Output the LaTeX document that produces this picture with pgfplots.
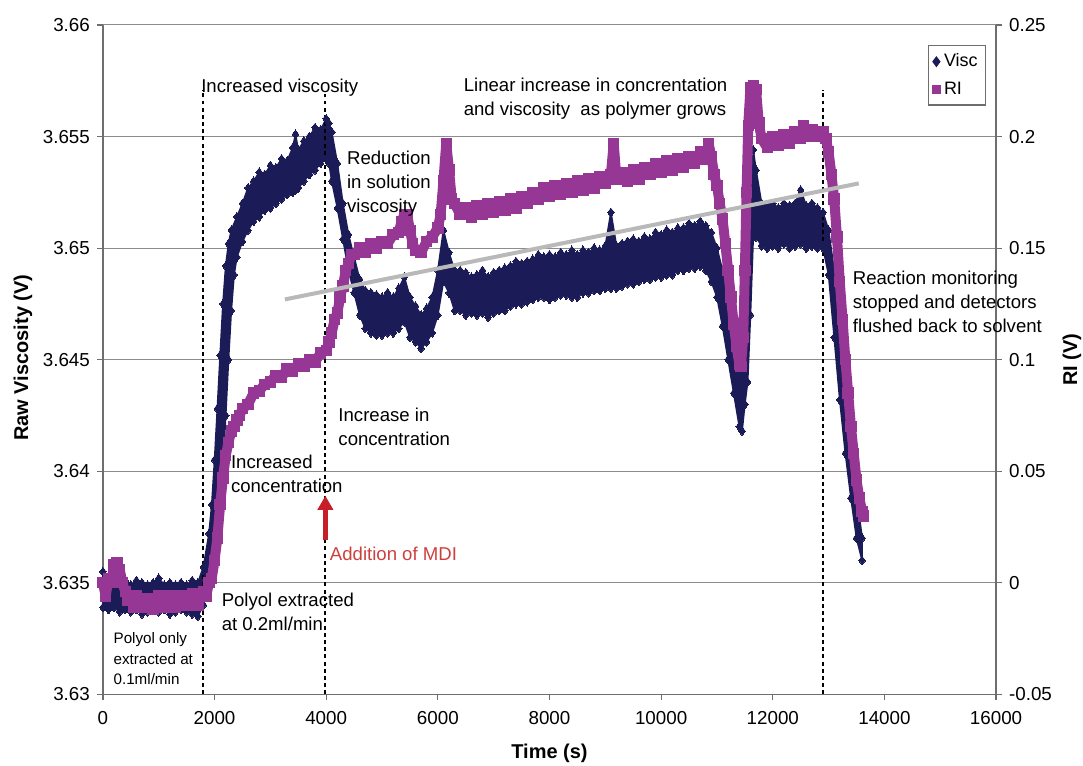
\documentclass[border=0pt]{standalone}
\usepackage{fontspec}
\setmainfont{Liberation Sans}
\usepackage{pgfplots}
\pgfplotsset{compat=1.18}
\usetikzlibrary{arrows.meta}
\definecolor{viscc}{RGB}{27,27,87}
\definecolor{ric}{RGB}{150,55,150}
\definecolor{trendc}{RGB}{185,185,185}
\definecolor{arrowc}{RGB}{200,30,40}
\definecolor{mdic}{RGB}{205,65,60}
\definecolor{axc}{RGB}{110,110,110}
\definecolor{gridc}{RGB}{140,140,140}
\newcommand{\annot}{\fontsize{9.3}{12}\selectfont}
\newcommand{\annots}{\fontsize{7.6}{10.3}\selectfont}
\pgfplotsset{scaled x ticks=false, scaled y ticks=false}
\begin{document}
\begin{tikzpicture}
\useasboundingbox (-51.5pt,-35.5pt) rectangle (490.5pt,347.5pt);
\begin{axis}[
  scale only axis, width=447pt, height=335pt,
  xmin=0, xmax=16000, ymin=3.63, ymax=3.66,
  axis y line*=left, axis x line*=bottom,
  axis line style={axc, line width=0.6pt, -},
  xtick={0,2000,4000,6000,8000,10000,12000,14000,16000},
  xticklabels={0,2000,4000,6000,8000,10000,12000,14000,16000},
  ytick={3.63,3.635,3.64,3.645,3.65,3.655,3.66},
  yticklabels={3.63,3.635,3.64,3.645,3.65,3.655,3.66},
  tick align=outside, major tick length=3pt,
  tick style={axc, line width=0.6pt},
  ymajorgrids, grid style={gridc, line width=0.5pt},
  ticklabel style={font=\fontsize{9.4}{11}\selectfont},
  xticklabel style={yshift=-2pt},
  xlabel={Time (s)}, ylabel={Raw Viscosity (V)},
  label style={font=\fontsize{10}{12}\selectfont\bfseries},
  xlabel style={at={(axis description cs:0.5,-0.088)}, anchor=center},
  ylabel style={at={(axis description cs:-0.0895,0.503)}, anchor=center},
  clip=false,
]
% Visc point cloud: upper edge (forward in time), then lower edge (backward in time)
\addplot[viscc, fill=viscc, line width=0.8pt, line join=round, mark=diamond*, mark size=2.2pt, mark options={solid, line width=0pt}] coordinates {
(0,3.6355) (100,3.6352) (200,3.6351) (300,3.6350) (400,3.6351) (500,3.6349) (600,3.6351) (700,3.6350) (800,3.6349) (900,3.6350) (1000,3.6352) (1100,3.6349) (1200,3.6350) (1300,3.6349) (1400,3.6350) (1500,3.6349) (1600,3.6351) (1700,3.6350) (1800,3.6357) (1900,3.6372) (1950,3.6385) (2000,3.6405) (2050,3.6428) (2100,3.6452) (2150,3.6475) (2200,3.6492) (2250,3.6502) (2300,3.6508) (2400,3.6514) (2500,3.6520) (2600,3.6527) (2700,3.6530) (2800,3.6534) (2900,3.6533) (3000,3.6537) (3100,3.6536) (3200,3.6540) (3300,3.6539) (3400,3.6545) (3450,3.6551) (3500,3.6544) (3600,3.6548) (3700,3.6550) (3800,3.6554) (3900,3.6553) (4000,3.6558) (4050,3.6556) (4100,3.6552) (4200,3.6538) (4300,3.6520) (4400,3.6506) (4500,3.6496) (4600,3.6486) (4700,3.6481) (4800,3.6480) (4900,3.6479) (5000,3.6478) (5100,3.6480) (5200,3.6478) (5300,3.6482) (5400,3.6487) (5500,3.6478) (5600,3.6474) (5700,3.6470) (5800,3.6473) (5900,3.6478) (6000,3.6490) (6100,3.6508) (6200,3.6498) (6300,3.6490) (6400,3.6490) (6500,3.6489) (6600,3.6487) (6700,3.6488) (6800,3.6490) (6900,3.6487) (7000,3.6489) (7100,3.6490) (7200,3.6491) (7300,3.6492) (7400,3.6494) (7500,3.6493) (7600,3.6494) (7700,3.6495) (7800,3.6497) (7900,3.6496) (8000,3.6497) (8100,3.6496) (8200,3.6498) (8300,3.6497) (8400,3.6499) (8500,3.6497) (8600,3.6499) (8700,3.6498) (8800,3.6500) (8900,3.6499) (9000,3.6501) (9100,3.6516) (9200,3.6501) (9300,3.6502) (9400,3.6503) (9500,3.6504) (9600,3.6503) (9700,3.6505) (9800,3.6504) (9900,3.6507) (10000,3.6506) (10100,3.6508) (10200,3.6507) (10300,3.6509) (10400,3.6509) (10500,3.6511) (10600,3.6510) (10700,3.6512) (10800,3.6510) (10900,3.6507) (11000,3.6500) (11100,3.6490) (11200,3.6475) (11300,3.6462) (11400,3.6452) (11450,3.6448) (11500,3.6455) (11550,3.6470) (11600,3.6510) (11650,3.6544) (11700,3.6535) (11800,3.6520) (11900,3.6519) (12000,3.6520) (12100,3.6518) (12200,3.6520) (12300,3.6519) (12400,3.6520) (12500,3.6526) (12600,3.6519) (12700,3.6520) (12800,3.6518) (12900,3.6516) (13000,3.6508) (13100,3.6490) (13200,3.6465) (13300,3.6440) (13400,3.6412) (13500,3.6390) (13600,3.6370)
(13600,3.6360) (13500,3.6370) (13400,3.6388) (13300,3.6408) (13200,3.6432) (13100,3.6460) (13000,3.6488) (12900,3.6500) (12800,3.6500) (12700,3.6501) (12600,3.6500) (12500,3.6502) (12400,3.6501) (12300,3.6500) (12200,3.6502) (12100,3.6500) (12000,3.6501) (11900,3.6500) (11800,3.6501) (11700,3.6505) (11650,3.6505) (11600,3.6470) (11550,3.6440) (11500,3.6430) (11450,3.6418) (11400,3.6420) (11300,3.6435) (11200,3.6450) (11100,3.6465) (11000,3.6478) (10900,3.6485) (10800,3.6490) (10700,3.6492) (10600,3.6491) (10500,3.6491) (10400,3.6490) (10300,3.6490) (10200,3.6488) (10100,3.6488) (10000,3.6487) (9900,3.6487) (9800,3.6486) (9700,3.6486) (9600,3.6485) (9500,3.6484) (9400,3.6484) (9300,3.6483) (9200,3.6482) (9100,3.6482) (9000,3.6482) (8900,3.6481) (8800,3.6481) (8700,3.6480) (8600,3.6480) (8500,3.6478) (8400,3.6478) (8300,3.6479) (8200,3.6479) (8100,3.6478) (8000,3.6477) (7900,3.6478) (7800,3.6478) (7700,3.6477) (7600,3.6476) (7500,3.6475) (7400,3.6475) (7300,3.6474) (7200,3.6472) (7100,3.6472) (7000,3.6471) (6900,3.6469) (6800,3.6471) (6700,3.6470) (6600,3.6471) (6500,3.6470) (6400,3.6472) (6300,3.6472) (6200,3.6480) (6100,3.6485) (6000,3.6470) (5900,3.6462) (5800,3.6458) (5700,3.6455) (5600,3.6458) (5500,3.6460) (5400,3.6467) (5300,3.6464) (5200,3.6462) (5100,3.6462) (5000,3.6461) (4900,3.6461) (4800,3.6462) (4700,3.6464) (4600,3.6470) (4500,3.6480) (4400,3.6490) (4300,3.6504) (4200,3.6518) (4100,3.6530) (4050,3.6538) (4000,3.6540) (3900,3.6538) (3800,3.6535) (3700,3.6533) (3600,3.6530) (3500,3.6527) (3450,3.6526) (3400,3.6525) (3300,3.6524) (3200,3.6522) (3100,3.6520) (3000,3.6518) (2900,3.6517) (2800,3.6514) (2700,3.6512) (2600,3.6508) (2500,3.6503) (2400,3.6496) (2350,3.6488) (2300,3.6472) (2250,3.6450) (2200,3.6425) (2150,3.6402) (2100,3.6385) (2000,3.6362) (1900,3.6350) (1800,3.6340) (1700,3.6335) (1600,3.6336) (1500,3.6337) (1400,3.6338) (1300,3.6337) (1200,3.6336) (1100,3.6338) (1000,3.6337) (900,3.6338) (800,3.6337) (700,3.6336) (600,3.6338) (500,3.6337) (400,3.6338) (300,3.6337) (200,3.6339) (100,3.6338) (0,3.6339)
};
\addplot[black, line width=0.9pt, dash pattern=on 2pt off 1.6pt, forget plot] coordinates {(1790,3.63) (1790,3.6571)};
\addplot[black, line width=0.9pt, dash pattern=on 2pt off 1.6pt, forget plot] coordinates {(3975,3.63) (3975,3.6569)};
\addplot[black, line width=0.9pt, dash pattern=on 2pt off 1.6pt, forget plot] coordinates {(12900,3.63) (12900,3.6571)};
\end{axis}

\begin{axis}[
  scale only axis, width=447pt, height=335pt,
  xmin=0, xmax=16000, ymin=-0.05, ymax=0.25,
  axis y line*=right, axis x line=none,
  axis line style={axc, line width=0.6pt, -},
  ytick={-0.05,0,0.05,0.1,0.15,0.2,0.25},
  yticklabels={-0.05,0,0.05,0.1,0.15,0.2,0.25},
  tick align=outside, major tick length=3pt,
  tick style={axc, line width=0.6pt},
  ticklabel style={font=\fontsize{9.4}{11}\selectfont},
  ylabel={RI (V)},
  label style={font=\fontsize{10}{12}\selectfont\bfseries},
  ylabel style={at={(axis description cs:1.085,0.5)}, anchor=center},
  clip=false,
  legend style={at={(axis description cs:0.989,0.970)}, anchor=north east, draw=axc, line width=0.6pt, font=\fontsize{9}{11}\selectfont, inner xsep=2pt, inner ysep=2pt, row sep=2pt, cells={anchor=west}},
  legend cell align=left,
]
\addlegendimage{only marks, mark=diamond*, viscc, mark size=2.3pt}
\addlegendentry{Visc}
\addlegendimage{only marks, mark=square*, ric, mark size=1.8pt}
\addlegendentry{RI}
\addplot[ric, line width=5pt, line join=round, mark=square*, mark size=2.6pt, mark options={solid, line width=0pt}, forget plot] coordinates {
(0,0.000) (50,-0.006) (100,0.002) (150,0.000) (200,0.008) (250,0.009) (300,0.006) (350,0.000) (400,-0.004) (450,-0.008) (500,-0.006) (550,-0.011) (600,-0.006) (700,-0.011) (800,-0.007) (900,-0.012) (1000,-0.006) (1100,-0.011) (1200,-0.006) (1300,-0.011) (1400,-0.006) (1500,-0.010) (1600,-0.005) (1700,-0.010) (1800,-0.004) (1850,-0.006) (1900,0.000) (1950,0.002) (2000,0.010) (2050,0.020) (2100,0.035) (2150,0.047) (2200,0.057) (2250,0.063) (2300,0.068) (2350,0.070) (2400,0.073) (2450,0.075) (2500,0.078) (2600,0.080) (2700,0.085) (2800,0.086) (2900,0.089) (3000,0.090) (3100,0.093) (3200,0.092) (3300,0.096) (3400,0.095) (3500,0.098) (3600,0.097) (3700,0.100) (3800,0.099) (3900,0.103) (4000,0.104) (4050,0.108) (4100,0.112) (4150,0.118) (4200,0.121) (4250,0.128) (4300,0.133) (4350,0.140) (4400,0.143) (4450,0.147) (4500,0.147) (4600,0.150) (4700,0.148) (4800,0.152) (4900,0.150) (5000,0.153) (5100,0.152) (5200,0.156) (5300,0.157) (5350,0.162) (5400,0.165) (5450,0.165) (5500,0.158) (5550,0.152) (5600,0.149) (5700,0.148) (5800,0.153) (5900,0.155) (6000,0.159) (6050,0.165) (6100,0.180) (6150,0.197) (6200,0.185) (6250,0.172) (6300,0.170) (6400,0.165) (6500,0.168) (6600,0.164) (6700,0.169) (6800,0.165) (6900,0.170) (7000,0.166) (7100,0.171) (7200,0.167) (7300,0.172) (7400,0.168) (7500,0.173) (7600,0.170) (7700,0.175) (7800,0.172) (7900,0.177) (8000,0.173) (8100,0.178) (8200,0.174) (8300,0.179) (8400,0.175) (8500,0.180) (8600,0.176) (8700,0.181) (8800,0.177) (8900,0.182) (9000,0.179) (9100,0.183) (9150,0.197) (9200,0.181) (9300,0.184) (9400,0.180) (9500,0.185) (9600,0.181) (9700,0.186) (9800,0.183) (9900,0.188) (10000,0.184) (10100,0.189) (10200,0.185) (10300,0.190) (10400,0.186) (10500,0.191) (10600,0.188) (10700,0.193) (10800,0.190) (10850,0.197) (10900,0.191) (10950,0.183) (11000,0.178) (11050,0.170) (11100,0.163) (11150,0.152) (11200,0.140) (11250,0.128) (11300,0.116) (11350,0.106) (11400,0.098) (11430,0.097) (11470,0.110) (11500,0.140) (11530,0.175) (11560,0.205) (11600,0.222) (11650,0.223) (11700,0.221) (11750,0.206) (11800,0.199) (11900,0.195) (12000,0.200) (12100,0.196) (12200,0.201) (12300,0.197) (12400,0.202) (12500,0.199) (12550,0.205) (12600,0.200) (12700,0.203) (12800,0.200) (12900,0.202) (12950,0.199) (13000,0.193) (13050,0.183) (13100,0.172) (13150,0.155) (13200,0.135) (13250,0.118) (13300,0.100) (13350,0.085) (13400,0.070) (13450,0.058) (13500,0.046) (13550,0.038) (13600,0.032) (13620,0.030)
};
\end{axis}

\begin{axis}[
  scale only axis, width=447pt, height=335pt,
  xmin=0, xmax=16000, ymin=3.63, ymax=3.66,
  axis lines=none, clip=false,
]
\addplot[trendc, line width=2pt, forget plot] coordinates {(3260,3.6477) (13540,3.6529)};
\addplot[arrowc, line width=2.4pt, -{Triangle[width=7.5pt,length=7pt]}, forget plot] coordinates {(3985,3.6369) (3985,3.6389)};
\node[anchor=west, align=left, font=\annot, inner sep=0pt] at (axis cs:1755,3.6572) {Increased viscosity};
\node[anchor=west, align=left, font=\annot, inner sep=0pt] at (axis cs:6458,3.6567) {Linear increase in concrentation\\and viscosity\ \ as polymer grows};
\node[anchor=west, align=left, font=\annot, inner sep=0pt] at (axis cs:4367,3.6529) {Reduction\\in solution\\viscosity};
\node[anchor=west, align=left, font=\annot, inner sep=0pt] at (axis cs:13427,3.6476) {Reaction monitoring\\stopped and detectors\\flushed back to solvent};
\node[anchor=west, align=left, font=\annot, inner sep=0pt] at (axis cs:4213,3.6420) {Increase in\\concentration};
\node[anchor=west, align=left, font=\annot, inner sep=0pt] at (axis cs:2288,3.6399) {Increased\\concentration};
\node[anchor=west, align=left, font=\annot, inner sep=0pt] at (axis cs:2122,3.6337) {Polyol extracted\\at 0.2ml/min};
\node[anchor=west, align=left, font=\annots, inner sep=0pt] at (axis cs:185,3.6316) {Polyol only\\extracted at\\0.1ml/min};
\node[anchor=west, align=left, font=\annot, inner sep=0pt, text=mdic] at (axis cs:4060,3.6363) {Addition of MDI};
\end{axis}
\end{tikzpicture}
\end{document}
